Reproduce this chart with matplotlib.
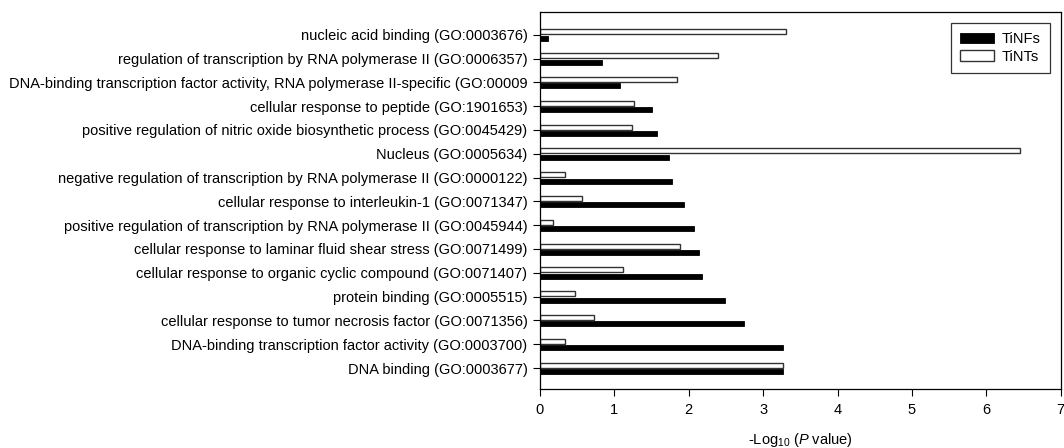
import numpy as np
import matplotlib
matplotlib.use("Agg")
import matplotlib.pyplot as plt

plt.rcParams['font.family'] = ['Liberation Sans', 'DejaVu Sans']
plt.rcParams['mathtext.fontset'] = 'custom'
plt.rcParams['mathtext.rm'] = 'Liberation Sans'
plt.rcParams['mathtext.it'] = 'Liberation Sans:italic'

# GO terms, listed top to bottom as in the figure
terms = [
    "nucleic acid binding (GO:0003676)",
    "regulation of transcription by RNA polymerase II (GO:0006357)",
    "DNA-binding transcription factor activity, RNA polymerase II-specific (GO:00009",
    "cellular response to peptide (GO:1901653)",
    "positive regulation of nitric oxide biosynthetic process (GO:0045429)",
    "Nucleus (GO:0005634)",
    "negative regulation of transcription by RNA polymerase II (GO:0000122)",
    "cellular response to interleukin-1 (GO:0071347)",
    "positive regulation of transcription by RNA polymerase II (GO:0045944)",
    "cellular response to laminar fluid shear stress (GO:0071499)",
    "cellular response to organic cyclic compound (GO:0071407)",
    "protein binding (GO:0005515)",
    "cellular response to tumor necrosis factor (GO:0071356)",
    "DNA-binding transcription factor activity (GO:0003700)",
    "DNA binding (GO:0003677)",
]
tinfs = [0.11, 0.84, 1.08, 1.50, 1.57, 1.73, 1.77, 1.94, 2.07, 2.14, 2.18, 2.48, 2.74, 3.26, 3.26]
tints = [3.31, 2.39, 1.84, 1.26, 1.24, 6.45, 0.33, 0.56, 0.18, 1.88, 1.12, 0.47, 0.73, 0.33, 3.26]
xticks = [0, 1, 2, 3, 4, 5, 6, 7]

fs = 10.5
fig, ax = plt.subplots(figsize=(10.64, 4.48), dpi=100)
fig.subplots_adjust(left=0.5075, right=0.997, top=0.9725, bottom=0.1317)

y = np.arange(len(terms))[::-1]
h = 0.21
ax.barh(y - 0.15, tinfs, height=h, color='black', edgecolor='black', linewidth=0.6, label='TiNFs')
ax.barh(y + 0.12, tints, height=h, color='white', edgecolor='#333333', linewidth=1.0, label='TiNTs')

ax.set_yticks(y)
ax.set_yticklabels(terms, fontsize=fs)
ax.set_ylim(-0.88, len(terms) - 1 + 0.94)
ax.set_xlim(0, 7)
ax.set_xticks(xticks)
ax.tick_params(axis='x', labelsize=fs, length=5, pad=5)
ax.tick_params(axis='y', length=5, pad=4)
for s in ax.spines.values():
    s.set_linewidth(0.9)

ax.set_xlabel(r'-Log$_{10}$ ($\mathit{P}$ value)', fontsize=fs, labelpad=10)

leg = ax.legend(loc='upper right', bbox_to_anchor=(0.9795, 0.9724), fancybox=False,
                edgecolor='black', fontsize=fs, handlelength=2.3, handleheight=0.75,
                borderpad=0.65, labelspacing=0.25, handletextpad=0.55, borderaxespad=0)
leg.get_frame().set_linewidth(0.9)

fig.savefig('out.png', dpi=100)
